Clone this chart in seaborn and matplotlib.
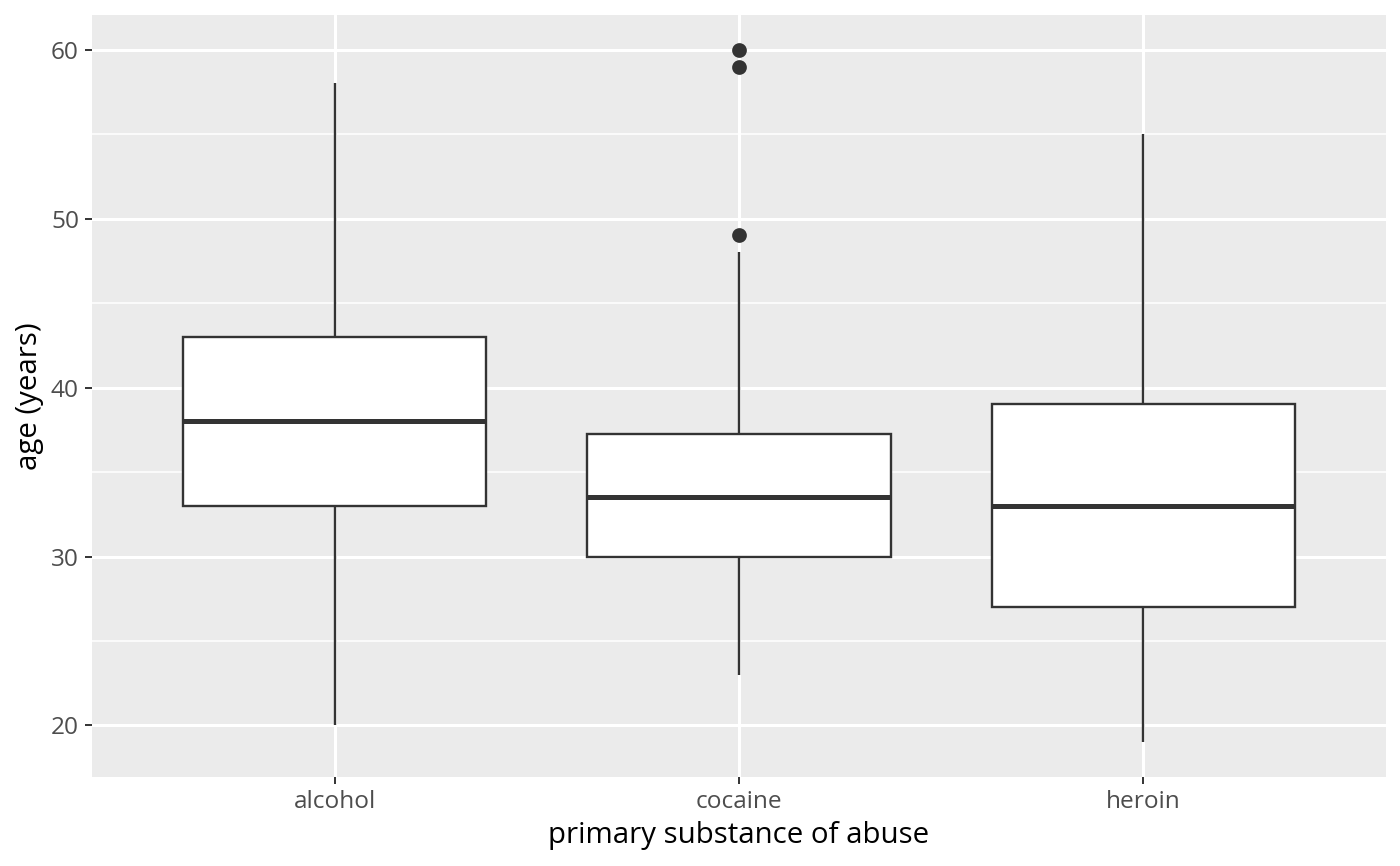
import matplotlib
matplotlib.use("Agg")
import matplotlib.pyplot as plt
from matplotlib.ticker import MultipleLocator
import pandas as pd
import seaborn as sns

# ages per primary substance, picked so the box stats match the picture
substances = ["alcohol", "cocaine", "heroin"]
alcohol_ages = [20, 33, 38, 43, 58]
cocaine_ages = [23, 26, 28, 29, 30, 31, 32, 33, 33.5, 34, 35, 36, 37.25, 48, 49, 59, 60]
heroin_ages = [19, 27, 33, 39, 55]

df = pd.concat([
    pd.DataFrame({"substance": "alcohol", "age": alcohol_ages}),
    pd.DataFrame({"substance": "cocaine", "age": cocaine_ages}),
    pd.DataFrame({"substance": "heroin", "age": heroin_ages}),
])

sns.set_theme(style="darkgrid", rc={
    "axes.facecolor": "#EBEBEB",
    "grid.color": "white",
    "axes.edgecolor": "#EBEBEB",
    "xtick.bottom": True,
    "ytick.left": True,
})
plt.rcParams["font.family"] = ["Open Sans", "DejaVu Sans"]

fig = plt.figure(figsize=(7, 4.33), dpi=200)
ax = fig.add_axes([92 / 1400, 89 / 866, 1294 / 1400, 762 / 866])

sns.boxplot(data=df, x="substance", y="age", order=substances, ax=ax,
            color="white", linecolor="#333333", linewidth=0.85, width=0.75,
            whis=1.5, showcaps=False, fliersize=4.3,
            flierprops=dict(marker="o", markerfacecolor="#333333",
                            markeredgecolor="#333333"),
            medianprops=dict(linewidth=1.8, color="#333333"))

ax.set_xlim(-0.6, 2.6)
ax.set_ylim(16.95, 62.05)
ax.set_yticks([20, 30, 40, 50, 60])
ax.yaxis.set_minor_locator(MultipleLocator(5))
ax.grid(True, which="major", color="white", linewidth=1.1)
ax.grid(True, which="minor", axis="y", color="white", linewidth=0.55)
ax.set_axisbelow(True)
for s in ax.spines.values():
    s.set_visible(False)

ax.tick_params(which="major", bottom=True, left=True, length=2.5, width=0.7,
               color="#333333", labelcolor="#4D4D4D", labelsize=8.8, pad=2.2)
ax.tick_params(which="minor", length=0)
ax.set_xlabel("primary substance of abuse", fontsize=10.6, color="black", labelpad=2.5)
ax.set_ylabel("age (years)", fontsize=10.6, color="black", labelpad=2.5)

fig.savefig("out.png", dpi=200)
